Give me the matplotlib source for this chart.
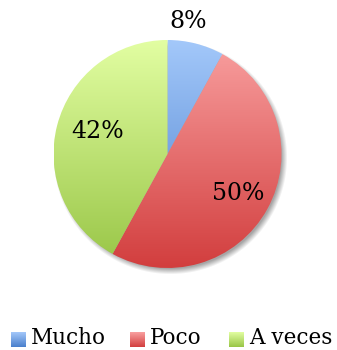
import numpy as np
import matplotlib
matplotlib.use("Agg")
from matplotlib import pyplot as plt
from matplotlib.colors import LinearSegmentedColormap

categories = ['Mucho', 'Poco', 'A veces']
values = [8, 50, 42]
top_colors = ['#a3c8fa', '#f9a0a0', '#e2fea2']
bottom_colors = ['#4a7fcc', '#d23e3e', '#98c546']

W, H = 337, 350
fig = plt.figure(figsize=(W / 100, H / 100), dpi=100)
ax = fig.add_axes([0, 0, 1, 1])

cx, cy, r = 167.5, 196, 114

# soft shadow under the pie
yy, xx = np.mgrid[0:H, 0:W]
d = np.hypot(xx - (cx + 2.5), (H - yy) - (cy - 3))
sh = np.clip((r + 3 - d) / 6, 0, 1) * 0.35
shadow = np.zeros((H, W, 4))
shadow[..., 3] = sh
ax.imshow(shadow, extent=(0, W, 0, H), origin='upper', zorder=0)

wedges, _ = ax.pie(values, startangle=90, counterclock=False,
                   center=(cx, cy), radius=r, frame=True,
                   wedgeprops=dict(linewidth=0))

grad = np.linspace(0, 1, 256).reshape(-1, 1)
for w, c0, c1 in zip(wedges, top_colors, bottom_colors):
    w.set_facecolor('none')
    cmap = LinearSegmentedColormap.from_list('g', [c0, c1])
    im = ax.imshow(grad, cmap=cmap, aspect='auto',
                   extent=(cx - r, cx + r, cy - r, cy + r),
                   origin='upper', zorder=2)
    im.set_clip_path(w)

font = 'DejaVu Serif'
total = sum(values)
label_pos = [(188, H - 22), (238, H - 193), (98, H - 131)]
for v, (lx, ly) in zip(values, label_pos):
    ax.text(lx, ly, f'{round(100 * v / total)}%', ha='center', va='center',
            fontsize=17, family=font, color='black', zorder=5)

# legend with gradient squares
marker_x = [11, 130, 229]
sq = 15
for name, mx, c0, c1 in zip(categories, marker_x, top_colors, bottom_colors):
    cmap = LinearSegmentedColormap.from_list('g', [c0, c1])
    ax.imshow(grad, cmap=cmap, aspect='auto',
              extent=(mx, mx + sq, H - 347, H - 332), origin='upper', zorder=5)
    ax.text(mx + sq + 5, H - 338, name, ha='left', va='center',
            fontsize=15.5, family=font, color='black', zorder=5)

ax.set_xlim(0, W)
ax.set_ylim(0, H)
ax.set_aspect('equal')
ax.axis('off')
fig.savefig('out.png', dpi=100)
